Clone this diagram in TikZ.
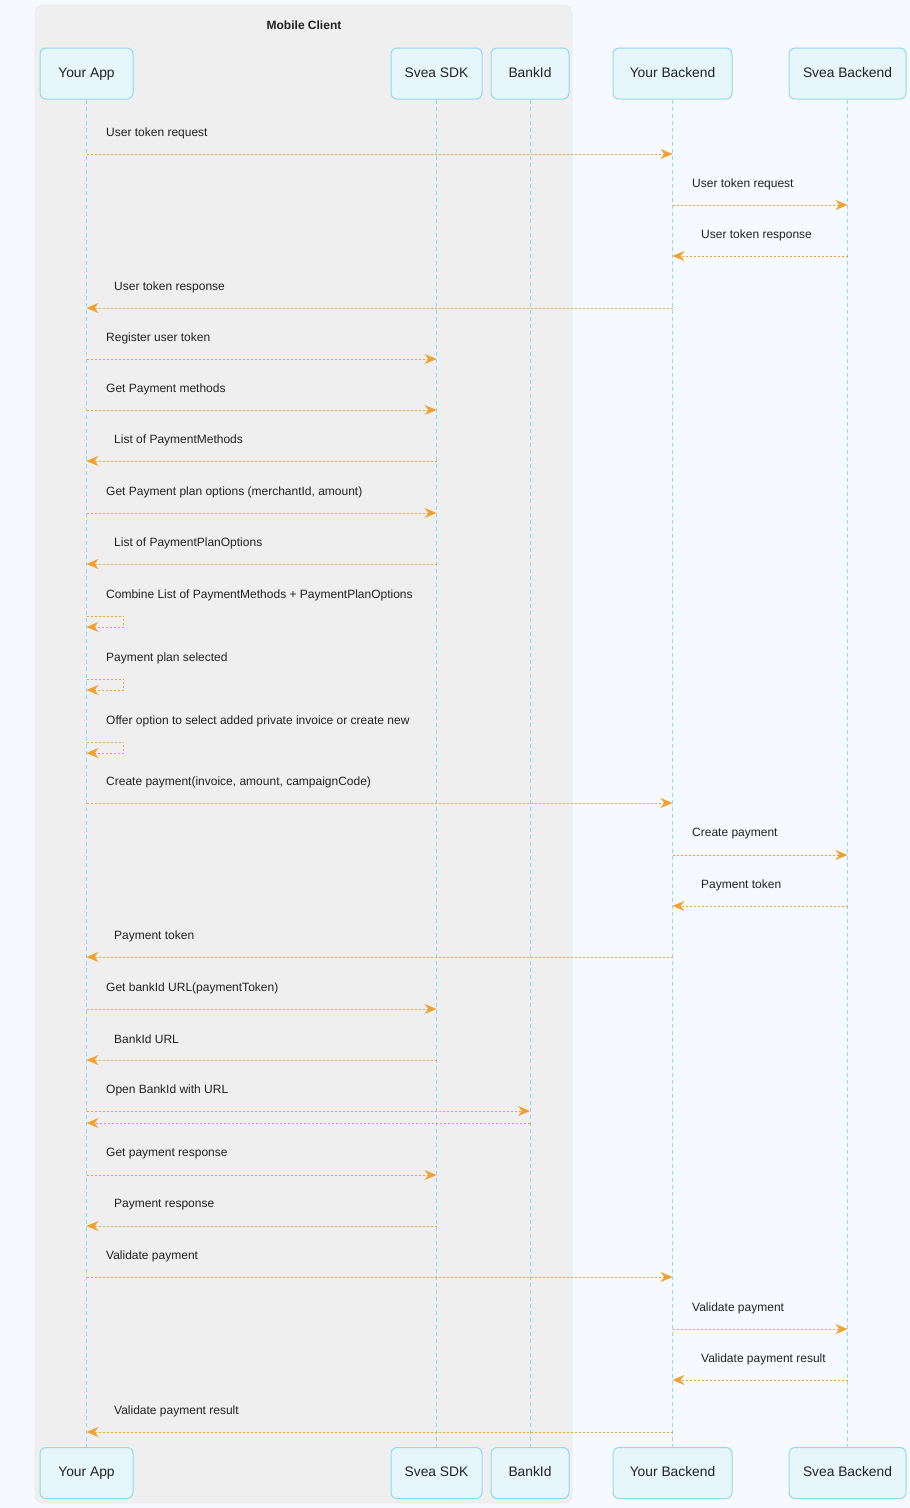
\documentclass[tikz,border=0pt]{standalone}
\usepackage{fontspec}
\setmainfont{Liberation Sans}
\usepackage{xcolor}
\usepackage{tikz}
\usetikzlibrary{arrows.meta}
\usetikzlibrary{positioning}

\definecolor{bgc}{HTML}{F6F9FD}
\definecolor{grpfill}{HTML}{EFEFEF}
\definecolor{grpline}{HTML}{E6E6E6}
\definecolor{actfill}{HTML}{E6F6FB}
\definecolor{actline}{HTML}{8FDAF0}
\definecolor{msgc}{HTML}{F2A02E}
\definecolor{txt}{HTML}{222222}

\begin{document}
\begin{tikzpicture}[
	x=1pt, y=-1pt,
	font=\fontsize{12}{14}\selectfont
]
\tikzset{
    actor/.style = {rectangle, rounded corners=6pt, draw=actline, fill=actfill, line width=1pt, minimum height=51pt, text height=10pt, text depth=2.5pt, text=txt, font=\fontsize{13.8}{16}\selectfont},
    life/.style  = {draw=actline, line width=1pt, dash pattern=on 4pt off 3pt},
    msg/.style   = {draw=msgc, line width=1pt, dash pattern=on 2pt off 2pt, -{Stealth[length=12pt,width=10pt,inset=4pt,sep=0pt]}},
    lbl/.style   = {anchor=west, inner sep=0pt, text=txt}
}
% background and group
\fill[bgc] (0,0) rectangle (910,1508);
\draw[fill=grpfill, draw=grpline, rounded corners=8pt] (35,5) rectangle (572,1503);
\node[text=txt, font=\fontsize{12}{14}\selectfont\bfseries] (grp) at (304,25) {Mobile Client};

% actors, top and bottom
\node[actor,minimum width=93pt]  (yapp) at (86.5,73.5)  {Your App};
\node[actor,minimum width=91pt]  (sdk)  at (436.5,73.5) {Svea SDK};
\node[actor,minimum width=78pt]  (bank) at (530,73.5)   {BankId};
\node[actor,minimum width=119pt] (ybe)  at (672.5,73.5) {Your Backend};
\node[actor,minimum width=117pt] (sbe)  at (847.5,73.5) {Svea Backend};

\node[actor,minimum width=93pt]  (yappB) at (86.5,1473)  {Your App};
\node[actor,minimum width=91pt]  (sdkB)  at (436.5,1473) {Svea SDK};
\node[actor,minimum width=78pt]  (bankB) at (530,1473)   {BankId};
\node[actor,minimum width=119pt] (ybeB)  at (672.5,1473) {Your Backend};
\node[actor,minimum width=117pt] (sbeB)  at (847.5,1473) {Svea Backend};

% lifelines
\foreach \a in {yapp,sdk,bank,ybe,sbe}
    \draw[life] (\a.south) -- (\a B.north);

% messages
\foreach \f/\t/\y/\lx/\txt in {
    yapp/ybe/154/106/User token request,
    ybe/sbe/205/692/User token request,
    sbe/ybe/256/701/User token response,
    ybe/yapp/308/114/User token response,
    yapp/sdk/359/106/Register user token,
    yapp/sdk/410/106/Get Payment methods,
    sdk/yapp/461/114/List of PaymentMethods,
    yapp/sdk/513/106/{Get Payment plan options (merchantId, amount)},
    sdk/yapp/564/114/List of PaymentPlanOptions,
    yapp/ybe/803/106/{Create payment(invoice, amount, campaignCode)},
    ybe/sbe/855/692/Create payment,
    sbe/ybe/906/701/Payment token,
    ybe/yapp/957/114/Payment token,
    yapp/sdk/1009/106/Get bankId URL(paymentToken),
    sdk/yapp/1060/114/BankId URL,
    yapp/bank/1111/106/Open BankId with URL,
    yapp/sdk/1175/106/Get payment response,
    sdk/yapp/1226/114/Payment response,
    yapp/ybe/1277/106/Validate payment,
    ybe/sbe/1329/692/Validate payment,
    sbe/ybe/1380/701/Validate payment result,
    ybe/yapp/1432/114/Validate payment result}
{
    \coordinate (m\y a) at (\f |- 0,\y);
    \coordinate (m\y b) at (\t |- 0,\y);
    \draw[msg] (m\y a) -- (m\y b);
    \node[lbl] (l\y) at (\lx,\y-21) {\txt};
}
% return from BankId
\coordinate (r1) at (bank |- 0,1123);
\coordinate (r2) at (yapp |- 0,1123);
\draw[msg] (r1) -- (r2);

% self messages
\foreach \y/\txt in {
    616/Combine List of PaymentMethods + PaymentPlanOptions,
    679/Payment plan selected,
    742/Offer option to select added private invoice or create new}
{
    \coordinate (s\y) at (yapp |- 0,\y);
    \draw[msg] (s\y) -- ++(37,0) -- ++(0,11) -- ++(-37,0);
    \node[lbl] (l\y) at (106,\y-21) {\txt};
}
\end{tikzpicture}
\end{document}
